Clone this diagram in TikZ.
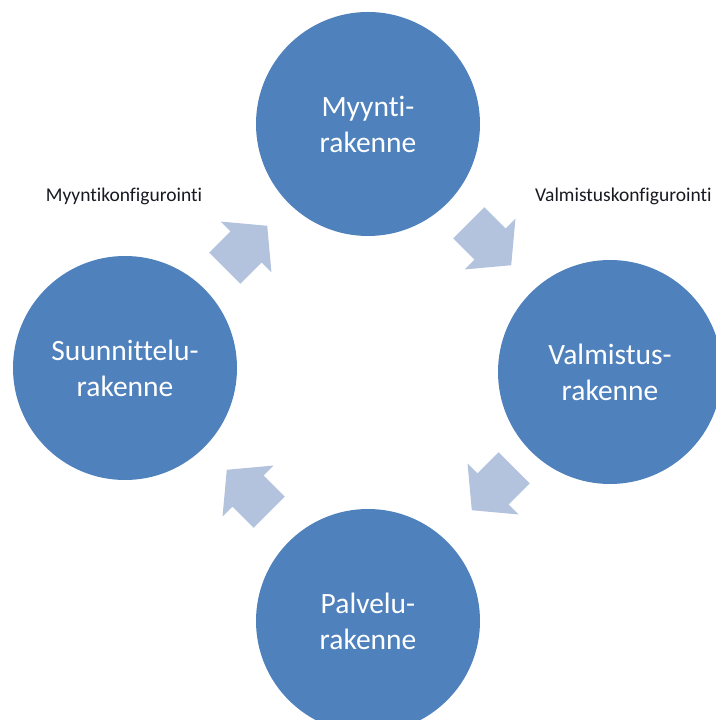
\documentclass[tikz,border=0pt]{standalone}
\usepackage{fontspec}
\setmainfont{Carlito}[Ligatures=NoCommon]
\definecolor{cyclefill}{RGB}{79,129,189}
\definecolor{arrowfill}{RGB}{180,195,221}
\definecolor{labeltext}{RGB}{25,25,35}
\tikzset{
  stage/.style={circle, fill=cyclefill, minimum size=224pt, inner sep=0pt,
    text=white, align=center, font=\fontsize{29.5}{36}\selectfont},
  flowlabel/.style={text=labeltext, font=\fontsize{19.5}{22}\selectfont, inner sep=0pt},
  blockarrow/.style={fill=arrowfill}
}
% block arrow centred at (#1,#2), pointing in direction #3
\newcommand{\cyclearrow}[3]{%
  \begin{scope}[shift={(#1,#2)}, rotate=#3]
    \fill[blockarrow] (-30,-22) -- (0,-22) -- (0,-36) -- (30,0) -- (0,36)
      -- (0,22) -- (-30,22) -- cycle;
  \end{scope}}
\begin{document}
\begin{tikzpicture}[x=1pt, y=1pt]
  \fill[white] (0,0) rectangle (715,720);
  \useasboundingbox (0,0) rectangle (715,720);

  \node[stage] (sales)   at (368,596) {Myynti-\\rakenne};
  \node[stage] (design)  at (125,352) {Suunnittelu-\\rakenne};
  \node[stage] (manuf)   at (610,348) {Valmistus-\\rakenne};
  \node[stage] (service) at (368,99)  {Palvelu-\\rakenne};

  \cyclearrow{246}{473}{45}
  \cyclearrow{490}{476}{-45}
  \cyclearrow{493}{231}{-135}
  \cyclearrow{248}{229}{135}

  \node[flowlabel] (salesconf) at (124,524) {Myyntikonfigurointi};
  \node[flowlabel, anchor=west] (manufconf) at (535,524) {Valmistuskonfigurointi};
\end{tikzpicture}
\end{document}
